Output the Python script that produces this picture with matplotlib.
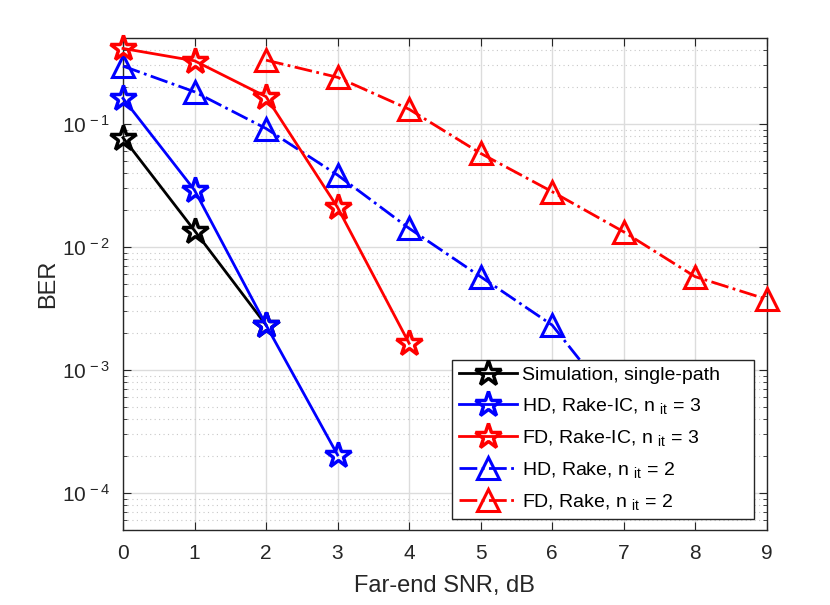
import matplotlib
matplotlib.use("Agg")
import matplotlib.pyplot as plt
import numpy as np

plt.rcParams['font.family'] = ['Liberation Sans', 'DejaVu Sans']
plt.rcParams['mathtext.fontset'] = 'custom'
plt.rcParams['mathtext.rm'] = 'Liberation Sans'
plt.rcParams['mathtext.it'] = 'Liberation Sans'

# Data
x_sim = [0, 1, 2]
ber_sim = [0.0775, 0.0136, 0.00232]

x_hd_ic = [0, 1, 2, 3]
ber_hd_ic = [0.162, 0.029, 0.00232, 0.000204]

x_fd_ic = [0, 1, 2, 3, 4]
ber_fd_ic = [0.412, 0.327, 0.167, 0.021, 0.00165]

x_hd_rake = [0, 1, 2, 3, 4, 5, 6, 7]
ber_hd_rake = [0.296, 0.183, 0.092, 0.0385, 0.0142, 0.00574, 0.00232, 0.00043]

x_fd_rake = [2, 3, 4, 5, 6, 7, 8, 9]
ber_fd_rake = [0.331, 0.24, 0.132, 0.0578, 0.0282, 0.0133, 0.00574, 0.00376]

labels = ['Simulation, single-path',
          'HD, Rake-IC, n $_{\\rm it}$ = 3',
          'FD, Rake-IC, n $_{\\rm it}$ = 3',
          'HD, Rake, n $_{\\rm it}$ = 2',
          'FD, Rake, n $_{\\rm it}$ = 2']

fig = plt.figure(figsize=(8.3, 6.05), dpi=100)
ax = fig.add_axes([0.1482, 0.124, 0.7755, 0.813])

lw = 2
star = dict(marker='*', ms=19, mfc='none', mew=2.5, clip_on=False)
tri = dict(marker='^', ms=16, mfc='none', mew=2.2, clip_on=False)
ax.plot(x_sim, ber_sim, '-', color='black', lw=lw, label=labels[0], zorder=5, **star)
ax.plot(x_hd_ic, ber_hd_ic, '-', color='blue', lw=lw, label=labels[1], zorder=5, **star)
ax.plot(x_fd_ic, ber_fd_ic, '-', color='red', lw=lw, label=labels[2], zorder=5, **star)
ax.plot(x_hd_rake, ber_hd_rake, '-.', color='blue', lw=lw, label=labels[3], zorder=4, **tri)
ax.plot(x_fd_rake, ber_fd_rake, '-.', color='red', lw=lw, label=labels[4], zorder=4, **tri)

ax.set_yscale('log')
ax.set_xlim(0, 9)
ax.set_ylim(5e-5, 0.5)
ax.set_xticks(range(0, 10))
ax.set_yticks([1e-4, 1e-3, 1e-2, 1e-1])
ax.set_yticklabels(['$10^{\\,-4}$', '$10^{\\,-3}$', '$10^{\\,-2}$', '$10^{\\,-1}$'])

ax.grid(True, which='major', color='#dcdcdc', lw=1)
ax.grid(True, which='minor', axis='y', color='#c8c8c8', lw=0.8, ls=(0, (1, 3)))
ax.set_axisbelow(True)

ax.tick_params(which='both', direction='in', top=True, right=True, colors='#262626', labelsize=15)
ax.tick_params(axis='x', pad=10)
ax.tick_params(axis='y', pad=9)
ax.tick_params(which='major', length=6)
ax.tick_params(which='minor', length=3)
for s in ax.spines.values():
    s.set_color('#262626')
    s.set_linewidth(1)

ax.set_xlabel('Far-end SNR, dB', fontsize=17, color='#262626', labelpad=9)
ax.set_ylabel('BER', fontsize=17, color='#262626', labelpad=2)

leg = ax.legend(loc='lower left', bbox_to_anchor=(0.511, 0.0224, 0.469, 0.335), mode='expand',
                fontsize=14, handlelength=3.0, fancybox=False, edgecolor='#262626',
                framealpha=1, borderpad=0.35, labelspacing=0.62, handletextpad=0.25,
                borderaxespad=0)
leg.get_frame().set_linewidth(1)
leg.set_zorder(10)

fig.savefig('out.png', dpi=100)
